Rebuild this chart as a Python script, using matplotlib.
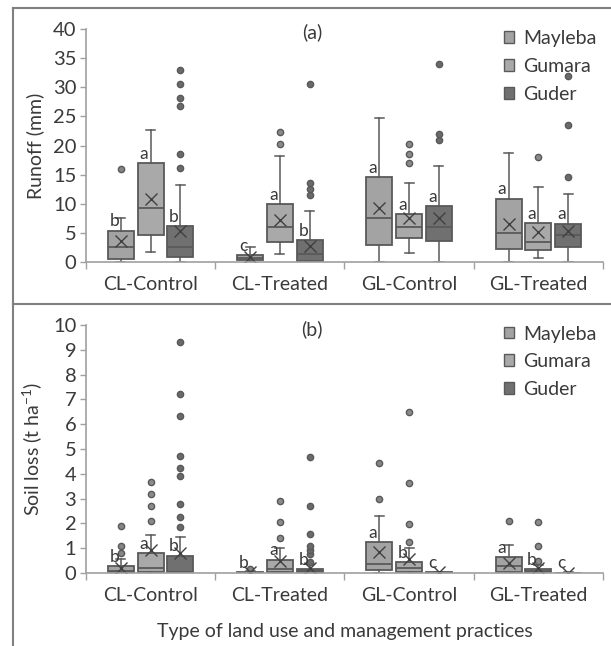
import numpy as np
import matplotlib.pyplot as plt
from matplotlib.patches import Patch
from matplotlib.lines import Line2D

plt.rcParams['font.family'] = ['Lato', 'DejaVu Sans']

practices = ['CL-Control', 'CL-Treated', 'GL-Control', 'GL-Treated']
sites = ['Mayleba', 'Gumara', 'Guder']
site_colors = ['#a3a3a3', '#a9a9a9', '#707070']
dot_colors = ['#858585', '#8a8a8a', '#6a6a6a']

# runoff (mm): [practice][site]
runoff_q1 = [[0.6, 4.7, 0.8], [0.3, 3.4, 0.1], [3.0, 4.1, 3.6], [2.3, 2.1, 2.6]]
runoff_med = [[2.6, 9.3, 2.6], [0.7, 6.0, 1.4], [7.5, 6.0, 6.0], [5.0, 3.4, 4.6]]
runoff_q3 = [[5.4, 17.0, 6.1], [1.2, 9.9, 3.8], [14.6, 8.2, 9.6], [10.9, 6.7, 6.6]]
runoff_lo = [[0.0, 1.8, 0.0], [0.0, 1.3, 0.0], [0.0, 1.6, 0.0], [0.0, 0.75, 0.0]]
runoff_hi = [[7.6, 22.7, 13.3], [2.5, 18.2, 8.7], [24.8, 13.6, 16.5], [18.8, 12.8, 11.6]]
runoff_mean = [[3.6, 10.9, 5.3], [0.85, 7.2, 2.7], [9.2, 7.6, 7.6], [6.6, 5.2, 5.4]]
runoff_out = [[[15.9], [], [16.2, 18.6, 26.8, 28.2, 30.6, 33.0]],
              [[], [20.2, 22.4], [11.5, 12.6, 13.6, 30.5]],
              [[], [17.0, 18.6, 20.3], [21.0, 22.0, 34.0]],
              [[], [18.0], [14.6, 23.6, 32.0]]]
runoff_letters = [['b', 'a', 'b'], ['c', 'a', 'b'], ['a', 'a', 'a'], ['a', 'a', 'a']]

# soil loss (t/ha): [practice][site]
soil_q1 = [[0.04, 0.03, 0.0], [0.0, 0.03, 0.01], [0.13, 0.04, 0.0], [0.03, 0.03, 0.0]]
soil_med = [[0.1, 0.2, 0.04], [0.01, 0.16, 0.07], [0.38, 0.2, 0.01], [0.3, 0.1, 0.0]]
soil_q3 = [[0.27, 0.8, 0.7], [0.04, 0.54, 0.16], [1.25, 0.44, 0.03], [0.64, 0.17, 0.02]]
soil_lo = [[0.0, 0.0, 0.0], [0.0, 0.0, 0.0], [0.0, 0.0, 0.0], [0.0, 0.0, 0.0]]
soil_hi = [[0.56, 1.53, 1.45], [0.08, 1.0, 0.38], [2.31, 1.0, 0.05], [1.11, 0.33, 0.03]]
soil_mean = [[0.2, 0.91, 0.8], [0.05, 0.5, 0.2], [0.85, 0.56, 0.03], [0.4, 0.2, 0.02]]
soil_out = [[[0.8, 1.1, 1.88], [2.1, 2.7, 3.2, 3.65], [1.85, 2.24, 2.8, 3.92, 4.25, 4.7, 6.34, 7.2, 9.33]],
            [[0.16], [1.4, 2.05, 2.9], [0.45, 0.78, 0.91, 1.1, 1.57, 2.71, 4.67]],
            [[3.0, 4.43], [1.25, 1.97, 3.62, 6.5], []],
            [[2.08], [0.47, 1.07, 2.05], []]]
soil_letters = [['b', 'a', 'b'], ['b', 'a', 'b'], ['a', 'b', 'c'], ['a', 'b', 'c']]

edge = '#595959'
txt = '#3a3a3a'
axcol = '#a0a0a0'
offsets = [-0.23, 0.0, 0.23]
fs = 14


def panel(ax, q1, med, q3, lo, hi, mean, out, letters, ymax, ystep, ylabel, tag):
    for ci in range(len(practices)):
        for si in range(len(sites)):
            pos = ci + 0.5 + offsets[si]
            st = dict(med=med[ci][si], q1=q1[ci][si], q3=q3[ci][si],
                      whislo=lo[ci][si], whishi=hi[ci][si],
                      mean=mean[ci][si], fliers=out[ci][si])
            ax.bxp([st], positions=[pos], widths=0.2, capwidths=0.07,
                   patch_artist=True, showmeans=True,
                   boxprops=dict(facecolor=site_colors[si], edgecolor=edge, linewidth=1.3),
                   medianprops=dict(color=edge, linewidth=1.3),
                   whiskerprops=dict(color=edge, linewidth=1.1),
                   capprops=dict(color=edge, linewidth=1.1),
                   meanprops=dict(marker='x', markeredgecolor='#404040', markersize=9,
                                  markeredgewidth=1.0),
                   flierprops=dict(marker='o', markerfacecolor=dot_colors[si],
                                   markeredgecolor=edge, markersize=4.5, markeredgewidth=1.0))
            ax.annotate(letters[ci][si], (pos - 0.05, q3[ci][si]), xytext=(0, 3),
                        textcoords='offset points', ha='center', va='baseline',
                        fontsize=12.5, color=txt)

    ax.set_xlim(0, 4)
    ax.set_ylim(0, ymax)
    ax.set_yticks(np.arange(0, ymax + ystep / 2, ystep))
    ax.set_xticks(np.arange(0, 5))
    ax.set_xticklabels([])
    ax.set_xticks(np.arange(4) + 0.5, minor=True)
    ax.set_xticklabels(practices, minor=True)
    ax.tick_params(axis='x', which='major', length=5, color=axcol, width=1)
    ax.tick_params(axis='x', which='minor', length=0, pad=10, labelsize=fs, labelcolor=txt)
    ax.tick_params(axis='y', length=4, color=axcol, width=1, pad=3, labelsize=fs + 0.5,
                   labelcolor=txt)
    for s in ['top', 'right']:
        ax.spines[s].set_visible(False)
    for s in ['left', 'bottom']:
        ax.spines[s].set_color(axcol)
        ax.spines[s].set_linewidth(1.2)
    ax.set_ylabel(ylabel, fontsize=fs, color=txt, labelpad=6)
    ax.text(0.437, 0.985, tag, transform=ax.transAxes, ha='center', va='center',
            fontsize=fs, color=txt)
    handles = [Patch(facecolor=c, edgecolor=edge, linewidth=1.0) for c in site_colors]
    ax.legend(handles, sites, loc='upper right', bbox_to_anchor=(1.01, 1.045), frameon=False,
              fontsize=fs, labelcolor=txt, handlelength=0.55, handleheight=0.55,
              handletextpad=0.45, labelspacing=0.55, borderaxespad=0.2)


fig = plt.figure(figsize=(6.11, 6.46), dpi=100)
ax1 = fig.add_axes([0.1408, 0.5944, 0.846, 0.3607])
ax2 = fig.add_axes([0.1408, 0.1130, 0.846, 0.3839])

panel(ax1, runoff_q1, runoff_med, runoff_q3, runoff_lo, runoff_hi, runoff_mean,
      runoff_out, runoff_letters, 40, 5, 'Runoff (mm)', '(a)')
panel(ax2, soil_q1, soil_med, soil_q3, soil_lo, soil_hi, soil_mean,
      soil_out, soil_letters, 10, 1, 'Soil loss (t ha$^{\\mathregular{-1}}$)', '(b)')
ax2.set_xlabel('Type of land use and management practices', fontsize=fs, color=txt, labelpad=14)

# outer frame lines
fc = '#808080'
fig.add_artist(Line2D([12.5 / 611, 12.5 / 611], [0, 1 - 8 / 646], color=fc, lw=1.5))
fig.add_artist(Line2D([12.5 / 611, 1], [1 - 8 / 646, 1 - 8 / 646], color=fc, lw=1.5))
fig.add_artist(Line2D([12.5 / 611, 1], [1 - 303.5 / 646, 1 - 303.5 / 646], color=fc, lw=1.5))

fig.savefig('out.png', dpi=100)
